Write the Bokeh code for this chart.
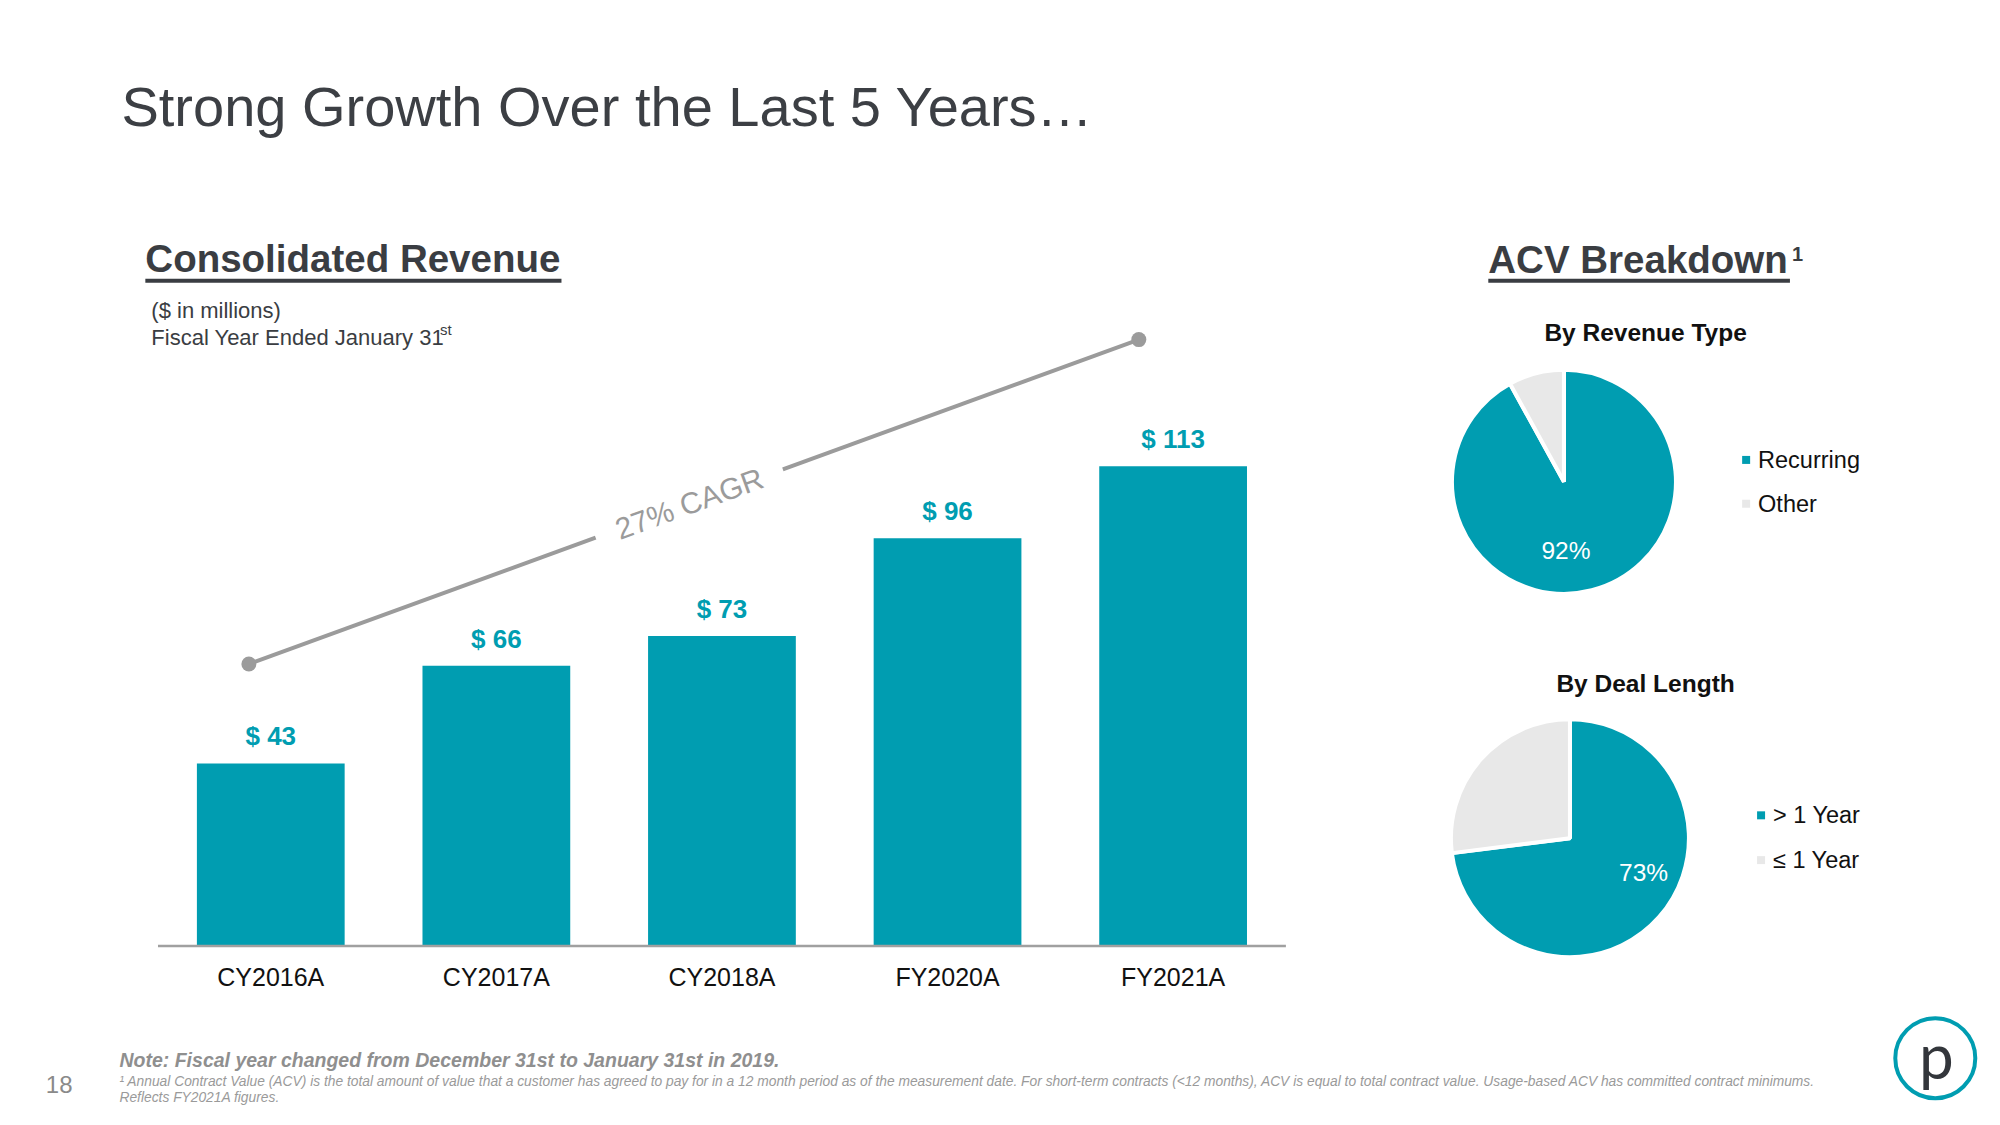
import math
from bokeh.plotting import figure
from bokeh.models import Range1d, ColumnDataSource
from bokeh.core.properties import value
from bokeh.embed import file_html
from bokeh.resources import INLINE

# ---------------- data ----------------
categories = ["CY2016A", "CY2017A", "CY2018A", "FY2020A", "FY2021A"]
revenue = [43, 66, 73, 96, 113]
revenue_labels = ["$ 43", "$ 66", "$ 73", "$ 96", "$ 113"]
cagr_label = "27% CAGR"
cagr_y = [66.4, 142.8]          # CAGR arrow end levels ($M)
rev_type_labels = ["Recurring", "Other"]
rev_type_share = [0.92, 0.08]
deal_len_labels = ["> 1 Year", "≤ 1 Year"]
deal_len_share = [0.73, 0.27]

TEAL = "#009db1"
LIGHT = "#e8e8e8"
DARK = "#3a3d42"
GREY = "#9b9b9b"
FONT = "Liberation Sans"

W, H = 1984, 1109
K = 1.0045                      # page-to-picture calibration
X0, X1 = 1.5 * K, (W + 1.5) * K
YT, YB = 1.5 * K, (H + 1.5) * K
p = figure(width=W, height=H, output_backend="svg", toolbar_location=None,
           x_range=Range1d(X0, X1), y_range=Range1d(YB, YT),
           x_axis_location=None, y_axis_location=None, min_border=0)
p.grid.visible = False
p.outline_line_color = None
p.background_fill_color = "white"

# bar chart scales: index -> page x, $ -> page y
x0, dx = 273.0, 226.6
y0, dy = 951.3, 4.266
p.extra_x_ranges = {"bar": Range1d((X0 - x0) / dx, (X1 - x0) / dx)}
p.extra_y_ranges = {"bar": Range1d((y0 - YB) / dy, (y0 - YT) / dy),
                    "pie": Range1d(-YB, -YT)}

def txt(x, y, t, size, color=DARK, style="normal", align="left", baseline="middle",
        font=FONT, angle=0, xr="default", yr="default"):
    p.text(x=[x], y=[y], text=[t], text_font=value(font), text_font_size=f"{size}px",
           text_color=color, text_font_style=style, text_align=align,
           text_baseline=baseline, angle=angle, x_range_name=xr, y_range_name=yr)

# ---------------- titles ----------------
txt(123, 108, "Strong Growth Over the Last 5 Years…", 56, color="#3c3f44")
txt(147, 261, "Consolidated Revenue", 38.5, style="bold")
p.segment(x0=[147], y0=[283], x1=[565], y1=[283], line_color=DARK, line_width=4)
txt(153, 313, "($ in millions)", 22)
txt(153, 340, "Fiscal Year Ended January 31", 22)
txt(443, 332, "st", 15)

# ---------------- bars ----------------
idx = list(range(len(categories)))
src = ColumnDataSource(dict(x=idx, top=revenue, lab=revenue_labels, cat=categories))
p.vbar(x="x", top="top", bottom=0, width=0.655, source=src, fill_color=TEAL,
       line_color=None, x_range_name="bar", y_range_name="bar")
p.segment(x0=[-0.5], y0=[0], x1=[4.5], y1=[0], line_color="#a0a0a0", line_width=2.5,
          x_range_name="bar", y_range_name="bar")
p.text(x="x", y="top", text="lab", source=src, text_font=value(FONT), text_font_size="26px",
       text_font_style="bold", text_color=TEAL, text_align="center", text_baseline="middle",
       y_offset=-27, x_range_name="bar", y_range_name="bar")
p.text(x="x", y=0, text="cat", source=src, text_font=value(FONT), text_font_size="25px",
       text_color="#111111", text_align="center", text_baseline="middle",
       y_offset=31, x_range_name="bar", y_range_name="bar")

# CAGR line with gap for label
cx = [-0.097, 3.848]
def cy(x):
    return cagr_y[0] + (cagr_y[1] - cagr_y[0]) * (x - cx[0]) / (cx[1] - cx[0])
g0, g1 = 1.44, 2.27
p.segment(x0=[cx[0], g1], y0=[cagr_y[0], cy(g1)], x1=[g0, cx[1]], y1=[cy(g0), cagr_y[1]],
          line_color=GREY, line_width=4, x_range_name="bar", y_range_name="bar")
p.scatter(x=cx, y=cagr_y, size=15, fill_color=GREY, line_color=None,
          x_range_name="bar", y_range_name="bar")
gm = (g0 + g1) / 2
txt(gm, cy(gm), cagr_label, 30, color=GREY, align="center", baseline="middle",
    angle=math.radians(20.0), xr="bar", yr="bar")

# ---------------- ACV breakdown ----------------
txt(1496, 262, "ACV Breakdown", 38.5, style="bold")
p.segment(x0=[1496], y0=[283], x1=[1799], y1=[283], line_color=DARK, line_width=4)
txt(1801, 256, "1", 20, style="bold")

def pie(cx_, cy_, r, shares, labels, title, title_y, leg_x, leg_y, leg_gap, pct_xy):
    txt(1654, title_y, title, 24.5, color="#111111", style="bold", align="center")
    start = math.pi / 2
    cols = [TEAL, LIGHT]
    for s, c in zip(shares, cols):
        end = start - s * 2 * math.pi
        p.wedge(x=[cx_], y=[-cy_], radius=r, radius_units="screen", start_angle=start,
                end_angle=end, direction="clock", fill_color=c, line_color="white",
                line_width=4, y_range_name="pie")
        start = end
    for i, (lab, c) in enumerate(zip(labels, cols)):
        yy = leg_y + i * leg_gap
        p.scatter(x=[leg_x], y=[yy], marker="square", size=8, fill_color=c, line_color=None)
        txt(leg_x + 12, yy, lab, 23.5, color="#111111", baseline="middle")
    txt(pct_xy[0], pct_xy[1], f"{round(shares[0]*100)}%", 24.5, color="white",
        align="center", baseline="middle")

pie(1572, 485, 112, rev_type_share, rev_type_labels, "By Revenue Type", 335,
    1755, 463, 44, (1574, 554))
pie(1578, 843, 119, deal_len_share, deal_len_labels, "By Deal Length", 688,
    1770, 820, 45, (1652, 877))

# ---------------- footer ----------------
txt(47, 1090, "18", 24, color="#8a8a8a", baseline="middle")
txt(121, 1066, "Note: Fiscal year changed from December 31st to January 31st in 2019.", 19.5,
    color="#8f8f8f", style="bold italic", baseline="middle")
txt(121, 1087, "¹ Annual Contract Value (ACV) is the total amount of value that a customer has agreed to pay for in a 12 month period as of the measurement date. For short-term contracts (<12 months), ACV is equal to total contract value. Usage-based ACV has committed contract minimums.",
    13.8, color="#9a9a9a", style="italic", baseline="middle")
txt(121, 1103, "Reflects FY2021A figures.", 13.8, color="#9a9a9a", style="italic", baseline="middle")

# logo
p.scatter(x=[1945], y=[1064], size=80, marker="circle", fill_color=None,
          line_color=TEAL, line_width=4)
txt(1946, 1061, "p", 62, color="#33363b", align="center", baseline="middle", font="Lato")

open("out.html", "w").write(file_html(p, INLINE))
